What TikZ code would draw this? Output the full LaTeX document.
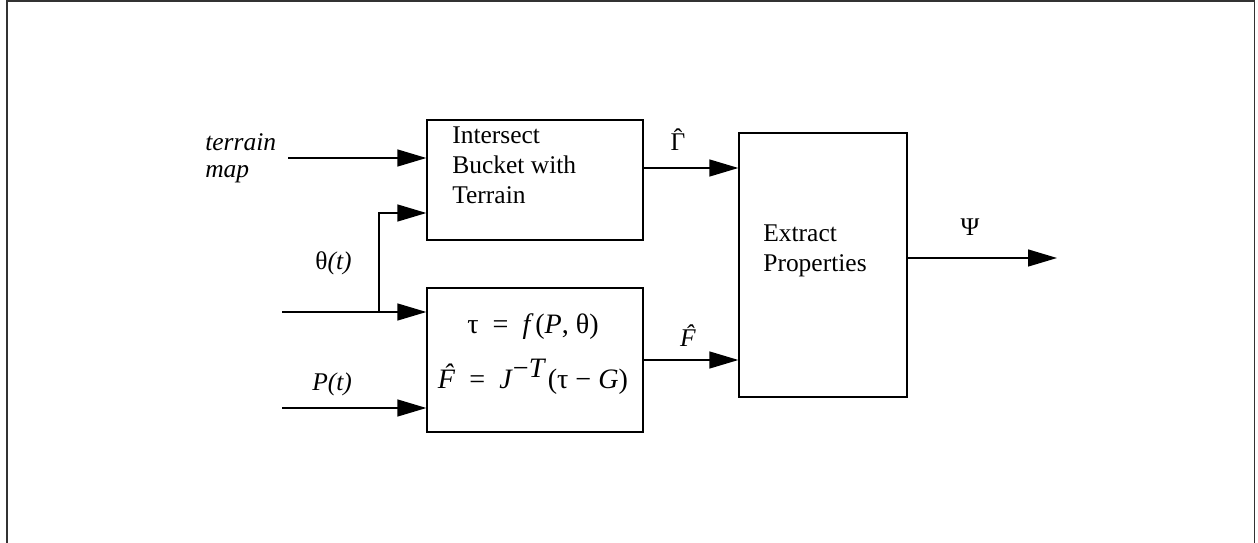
\documentclass[tikz,border=0pt]{standalone}
\usepackage{fontspec}
\setmainfont{Liberation Serif}
\usetikzlibrary{arrows.meta,calc}
\newcommand\hatted[1]{\accent"02C6 #1}
\begin{document}
\begin{tikzpicture}[x=0.02cm,y=-0.02cm,
  every node/.style={font=\fontsize{14.5}{17}\selectfont},
  block/.style={draw,line width=0.8pt,inner sep=0pt},
  flow/.style={line width=0.8pt,-{Triangle[length=0.58cm,width=0.34cm]}},
  lbl/.style={inner sep=0pt,anchor=base west},
  clbl/.style={inner sep=0pt,anchor=base},
  eqn/.style={clbl,font=\fontsize{16}{19}\selectfont},
]
\useasboundingbox (0,0) rectangle (1258,543);
% outer frame, open at the bottom
\draw[line width=1.1pt,color=black!80] (7,543) -- (7,1) -- (1254.5,1) -- (1254.5,543);

% blocks
\node[block,minimum width=4.32cm,minimum height=2.4cm] (isect) at (535,180) {};
\node[block,minimum width=4.32cm,minimum height=2.88cm] (force) at (535,360) {};
\node[block,minimum width=3.36cm,minimum height=5.28cm] (extract) at (823,265) {};

% block texts
\node[lbl] (i1) at (452,144) {Intersect};
\node[lbl] (i2) at (452,174) {Bucket with};
\node[lbl] (i3) at (452,204) {Terrain};
\node[lbl] (e1) at (763,242) {Extract};
\node[lbl] (e2) at (763,272) {Properties};
\node[eqn] (eq1) at (533,334) {τ ~=~ \textit{f}\kern1pt(\textit{P}, θ)};
\node[eqn] (eq2) at (533,389) {\textit{\hatted{F}} ~=~ \textit{J}\raisebox{0.42em}{−\textit{T}}\kern1pt(τ − \textit{G})};

% inputs
\coordinate (tmap) at (288,158);
\coordinate (thin) at (282,312);
\coordinate (split) at (379,312);
\coordinate (pin) at (282,408);
\coordinate (psiout) at (1057,258);

\draw[flow] (tmap) -- (tmap -| isect.west);
\draw[flow] (thin) -- (thin -| force.west);
\draw[flow] (split) |- (isect.west |- 0,213);
\draw[flow] (pin) -- (pin -| force.west);
\draw[flow] (isect.east |- 0,168) -- (extract.west |- 0,168);
\draw[flow] (force.east) -- (force.east -| extract.west);
\draw[flow] (extract.east |- psiout) -- (psiout);

% signal labels
\node[lbl] (tl1) at (205,151) {\textit{terrain}};
\node[lbl] (tl2) at (205,178) {\textit{map}};
\node[lbl] (thl) at (315,270) {θ\textit{(t)}};
\node[lbl] (pl) at (312,391) {\textit{P(t)}};
\node[clbl] (gl) at (678,151) {\hatted{Γ}};
\node[clbl] (fl) at (688,347) {\textit{\hatted{F}}};
\node[clbl] (psl) at (970,236) {Ψ};
\end{tikzpicture}
\end{document}
